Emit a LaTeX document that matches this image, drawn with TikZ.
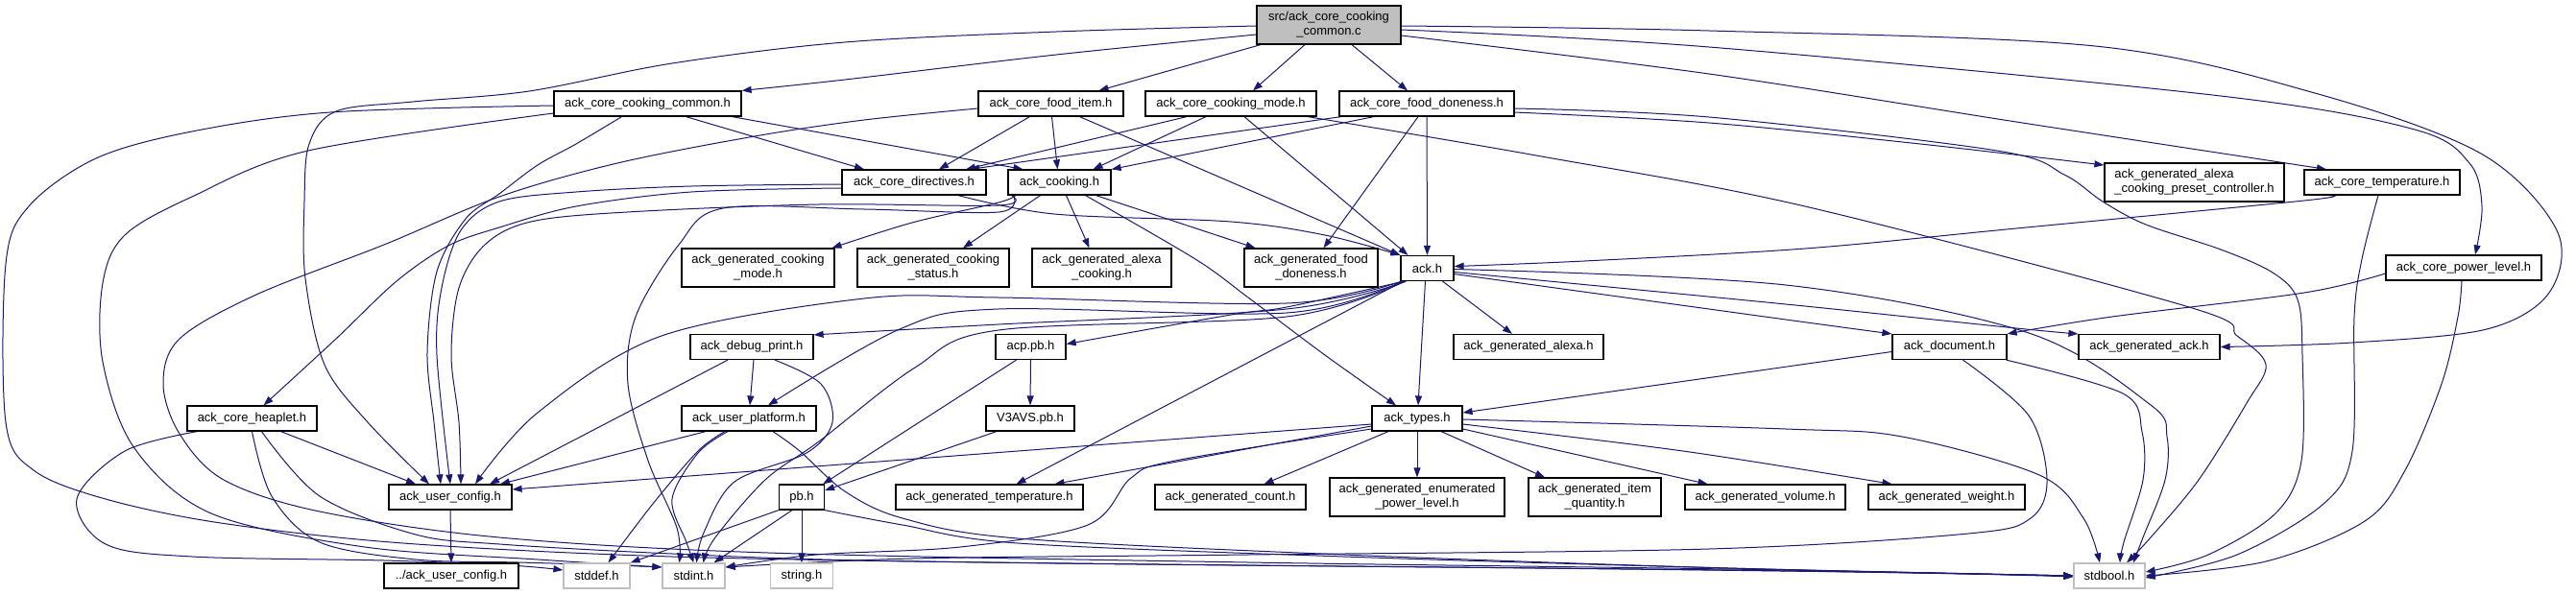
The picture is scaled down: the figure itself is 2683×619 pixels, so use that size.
\documentclass[tikz,border=0pt]{standalone}
\usepackage{fontspec}
\setmainfont{Liberation Sans}
\usetikzlibrary{arrows.meta}
\definecolor{edgeblue}{HTML}{191970}
\definecolor{boxgray}{HTML}{BFBFBF}
\pgfdeclarelayer{bg}
\pgfsetlayers{bg,main}
\begin{document}
\begin{tikzpicture}[x=1pt,y=-1pt,
 box/.style={draw=black,line width=1.2pt,fill=white,inner sep=0pt,minimum height=26pt,font=\fontsize{13}{15}\selectfont,text=black},
 tall/.style={minimum height=40pt,align=center},
 sys/.style={box,draw=boxgray},
 edge/.style={draw=edgeblue,line width=1pt,-{Triangle[length=10pt,width=7pt]}},
 sm/.style={smooth,tension=0.55}]
\useasboundingbox (0,0) rectangle (2683,619);
% rank 0
\node[box,tall,fill=boxgray,minimum width=150pt] (src) at (1384,26) {src/ack\_core\_cooking\\\_common.c};
% rank 1
\node[box,minimum width=195pt] (ccc) at (674.5,108) {ack\_core\_cooking\_common.h};
\node[box,minimum width=151pt] (fi) at (1094.5,108) {ack\_core\_food\_item.h};
\node[box,minimum width=178pt] (cm) at (1282,108) {ack\_core\_cooking\_mode.h};
\node[box,minimum width=182pt] (fd) at (1486,108) {ack\_core\_food\_doneness.h};
% rank 2
\node[box,minimum width=150pt] (dir) at (952,190) {ack\_core\_directives.h};
\node[box,minimum width=107pt] (ck) at (1103.5,190) {ack\_cooking.h};
\node[box,minimum width=187pt,minimum height=40pt,align=left] (gpc) at (2285.5,190) {ack\_generated\_alexa\\\_cooking\_preset\_controller.h};
\node[box,minimum width=162pt] (temp) at (2481,190) {ack\_core\_temperature.h};
% rank 3
\node[box,tall,minimum width=159pt] (gcm) at (789.5,279) {ack\_generated\_cooking\\\_mode.h};
\node[box,tall,minimum width=158pt] (gcs) at (972,279) {ack\_generated\_cooking\\\_status.h};
\node[box,tall,minimum width=145pt] (gac) at (1147.5,279) {ack\_generated\_alexa\\\_cooking.h};
\node[box,tall,minimum width=139pt] (gfd) at (1365.5,279) {ack\_generated\_food\\\_doneness.h};
\node[box,minimum width=55pt] (ack) at (1486.5,279.5) {ack.h};
\node[box,minimum width=162pt] (pl) at (2566,279) {ack\_core\_power\_level.h};
% rank 4
\node[box,minimum width=128pt] (dbg) at (783,361.5) {ack\_debug\_print.h};
\node[box,minimum width=73pt] (acp) at (1073.5,361.5) {acp.pb.h};
\node[box,minimum width=156pt] (galexa) at (1592,361.5) {ack\_generated\_alexa.h};
\node[box,minimum width=119pt] (doc) at (2030.5,361.5) {ack\_document.h};
\node[box,minimum width=147pt] (gack) at (2238.5,361.5) {ack\_generated\_ack.h};
% rank 5
\node[box,minimum width=135pt] (heap) at (262.5,436) {ack\_core\_heaplet.h};
\node[box,minimum width=140pt] (up) at (780,436) {ack\_user\_platform.h};
\node[box,minimum width=92pt] (v3) at (1073,436) {V3AVS.pb.h};
\node[box,minimum width=94pt] (types) at (1476,436) {ack\_types.h};
% rank 6
\node[box,minimum width=128pt] (uc) at (469,518) {ack\_user\_config.h};
\node[box,minimum width=47pt] (pb) at (835,518) {pb.h};
\node[box,minimum width=195pt] (gtemp) at (1030.5,518) {ack\_generated\_temperature.h};
\node[box,minimum width=157pt] (gcount) at (1281.5,518) {ack\_generated\_count.h};
\node[box,tall,minimum width=182pt] (genum) at (1476,518) {ack\_generated\_enumerated\\\_power\_level.h};
\node[box,tall,minimum width=138pt] (gitem) at (1661,518) {ack\_generated\_item\\\_quantity.h};
\node[box,minimum width=167pt] (gvol) at (1838.5,518) {ack\_generated\_volume.h};
\node[box,minimum width=163pt] (gweight) at (2027.5,518) {ack\_generated\_weight.h};
% rank 7
\node[box,minimum width=140pt] (luc) at (470,600) {../ack\_user\_config.h};
\node[sys,minimum width=69pt] (stddef) at (621.5,600) {stddef.h};
\node[sys,minimum width=65pt] (stdint) at (722.5,600) {stdint.h};
\node[sys,minimum width=65pt] (string) at (835,600) {string.h};
\node[sys,minimum width=74pt] (stdbool) at (2197,600) {stdbool.h};

\begin{pgfonlayer}{bg}
% src
\draw[edge] plot[sm] coordinates {([yshift=-10pt]src.west) (1100,57) (880,83) (ccc.north east)};
\draw[edge] plot[sm] coordinates {([yshift=-1pt]src.west) (1100,33) (880,44) (700,66) (551,95) (430,106) (350,116) (322,150) (317,210) (318,290) (338,380) (383,440) ([xshift=-22pt]uc.north)};
\draw[edge] ([xshift=-71pt]src.south) -- ([xshift=50pt]fi.north);
\draw[edge] ([xshift=-25pt]src.south) -- ([xshift=23pt]cm.north);
\draw[edge] ([xshift=24pt]src.south) -- ([xshift=-20pt]fd.north);
\draw[edge] plot[sm] coordinates {([yshift=-11pt]src.east) (1780,77) (2100,127) ([xshift=-58pt]temp.north)};
\draw[edge] plot[sm] coordinates {([yshift=-5pt]src.east) (1780,49) (2313,100) (2515,135) (2572,170) (2585,215) ([xshift=12pt]pl.north)};
\draw[edge] plot[sm] coordinates {([yshift=-1pt]src.east) (1780,32) (2182,48) (2411,97) (2584,160) (2663,240) (2655,305) (2590,343) (2450,357) (gack.east)};
% ccc
\draw[edge] plot[sm] coordinates {([yshift=-2pt]ccc.west) (344,117) (200,137) (100,165) (30,215) (6,275) (6,440) (35,490) (110,520) (230,545) (420,566) (700,580) (1100,587) (1600,592) (2000,597) ([yshift=-1pt]stdbool.west)};
\draw[edge] plot[sm] coordinates {([yshift=-10pt]ccc.west) (321,157) (200,205) (130,245) (107,295) (107,377) (140,467) (220,535) (380,570) (560,583) ([yshift=9pt]stdint.west)};
\draw[edge] plot[sm] coordinates {([xshift=-27pt]ccc.south) (600,150) (560,172) (520,202) (485,228) (455,283) (445,367) (452,440) ([xshift=-10pt]uc.north)};
\draw[edge] ([xshift=40pt]ccc.south) -- ([xshift=-52pt]dir.north);
\draw[edge] ([xshift=88pt]ccc.south) -- ([xshift=-38pt]ck.north);
% fi
\draw[edge] plot[sm] coordinates {([yshift=-5pt]fi.west) (900,125) (786,142) (643,170) (520,205) (400,255) (267,307) (187,353) (170,400) (187,452) (233,500) (333,533) (520,560) (800,576) (1300,586) (1800,593) (stdbool.west)};
\draw[edge] ([xshift=-22pt]fi.south) -- ([xshift=26pt]dir.north);
\draw[edge] ([xshift=1pt]fi.south) -- ([xshift=-2pt]ck.north);
\draw[edge] ([xshift=30pt]fi.south) -- (ack.north west);
% cm
\draw[edge] ([xshift=-46pt]cm.south) -- ([xshift=54pt]dir.north);
\draw[edge] ([xshift=-26pt]cm.south) -- ([xshift=35pt]ck.north);
\draw[edge] ([xshift=14pt]cm.south) -- ([xshift=-20pt]ack.north);
\draw[edge] plot[sm] coordinates {([xshift=80pt]cm.south) (1600,162) (1880,215) (2280,320) (2330,350) (2360,380) (2340,420) (2290,500) (2240,560) ([xshift=18pt]stdbool.north)};
% fd
\draw[edge] ([xshift=-89pt]fd.south) -- ([xshift=58pt]dir.north);
\draw[edge] ([xshift=-55pt]fd.south) -- (ck.north east);
\draw[edge] ([xshift=-9pt]fd.south) -- ([xshift=13pt]gfd.north);
\draw[edge] (fd.south) -- (ack.north);
\draw[edge] plot[sm] coordinates {([yshift=-9pt]fd.east) (1780,128) (2000,150) ([yshift=18pt]gpc.west)};
\draw[edge] plot[sm] coordinates {([yshift=-5pt]fd.east) (1780,122) (2080,157) (2150,182) (2190,210) (2235,234) (2313,260) (2367,284) (2393,312) (2398,370) (2397,480) (2370,535) (2300,578) ([yshift=4pt]stdbool.east)};
% temp
\draw[edge] plot[sm] coordinates {([xshift=-55pt]temp.south) (2400,209) (2100,238) (1880,259) (1650,272) ([yshift=2pt]ack.east)};
\draw[edge] plot[sm] coordinates {([xshift=-4pt]temp.south) (2460,270) (2452,330) (2450,470) (2420,525) (2330,578) ([yshift=-2pt]stdbool.east)};
% pl
\draw[edge] plot[sm] coordinates {([yshift=-6pt]pl.west) (2400,305) (2200,330) (doc.north east)};
\draw[edge] plot[sm] coordinates {([xshift=-2pt]pl.south) (2560,330) (2543,400) (2505,490) (2463,543) (2360,585) (stdbool.east)};
% dir
\draw[edge] plot[sm] coordinates {([yshift=-6pt]dir.west) (720,200) (600,215) (520,237) (467,256) (413,293) (350,353) ([xshift=12pt]heap.north)};
\draw[edge] plot[sm] coordinates {([yshift=-2pt]dir.west) (720,194) (600,200) (520,210) (480,240) (460,300) (455,370) (uc.north)};
\draw[edge] plot[sm] coordinates {([xshift=46pt]dir.south) (1098,223) (1282,231) (1380,245) (ack.north west)};
% ck
\draw[edge] plot[sm] coordinates {([xshift=-46pt]ck.south) (1040,211) (950,232) ([xshift=77pt]gcm.north)};
\draw[edge] ([xshift=-20pt]ck.south) -- ([xshift=31pt]gcs.north);
\draw[edge] ([xshift=7pt]ck.south) -- ([xshift=-13pt]gac.north);
\draw[edge] ([xshift=38pt]ck.south) -- ([xshift=-58pt]gfd.north);
\draw[edge] plot[sm] coordinates {([xshift=27pt]ck.south) (1245,270) (1300,310) (1380,370) ([xshift=-22pt]types.north)};
\draw[edge] plot[sm] coordinates {([xshift=-50pt]ck.south) (1040,214) (853,213) (653,221) (553,231) (505,255) (478,300) (470,370) (478,440) ([xshift=11pt]uc.north)};
\draw[edge] plot[sm] coordinates {([xshift=-48pt]ck.south) (1040,221) (900,218) (753,217) (707,255) (662,330) (654,400) (675,480) (705,550) ([xshift=-15pt]stdint.north)};
% ack
\draw[edge] plot[sm] coordinates {([xshift=-22pt]ack.south) (1340,322) (1040,338) ([yshift=-1pt]dbg.north east)};
\draw[edge] plot[sm] coordinates {([xshift=-24pt]ack.south) (1340,320) (1282,328) ([yshift=3pt]acp.east)};
\draw[edge] plot[sm] coordinates {([xshift=-26pt]ack.south) (1340,326) (1040,322) (937,343) ([xshift=20pt]up.north)};
\draw[edge] plot[sm] coordinates {([xshift=-27pt]ack.south) (1340,316) (1040,310) (900,311) (689,350) (560,430) ([xshift=26pt]uc.north)};
\draw[edge] plot[sm] coordinates {([xshift=-23pt]ack.south) (1340,330) (1040,344) (953,383) (853,460) (797,500) (745,560) ([xshift=10pt]stdint.north)};
\draw[edge] ([xshift=-25pt]ack.south) -- ([xshift=28pt]gtemp.north);
\draw[edge] ([xshift=-2pt]ack.south) -- ([xshift=1pt]types.north);
\draw[edge] ([xshift=16pt]ack.south) -- ([xshift=-17pt]galexa.north);
\draw[edge] plot[sm] coordinates {([yshift=-1pt]ack.east) (1860,297) (2113,347) (2240,422) (2257,455) (2255,500) (2232,560) ([xshift=25pt]stdbool.north)};
\draw[edge] plot[sm] coordinates {([yshift=-4pt]ack.east) (1860,317) (2100,342) (gack.north west)};
\draw[edge] plot[sm] coordinates {([yshift=-6pt]ack.east) (1860,333) (doc.north west)};
% dbg
\draw[edge] ([xshift=2pt]dbg.south) -- ([xshift=1pt]up.north);
\draw[edge] ([xshift=-25pt]dbg.south) -- ([xshift=41pt]uc.north);
\draw[edge] plot[sm] coordinates {([xshift=24pt]dbg.south) (855,400) (867,440) (840,472) (765,502) (733,555) ([xshift=3pt]stdint.north)};
% up
\draw[edge] ([xshift=-45pt]up.south) -- ([xshift=52pt]uc.north);
\draw[edge] plot[sm] coordinates {([xshift=-25pt]up.south) (727,470) (680,525) ([xshift=12pt]stddef.north)};
\draw[edge] plot[sm] coordinates {([xshift=-22pt]up.south) (727,472) (700,520) (715,565) (stdint.north)};
\draw[edge] plot[sm] coordinates {([xshift=25pt]up.south) (833,470) (880,512) (940,540) (1060,561) (1400,578) (1800,592) (stdbool.west)};
% acp, v3
\draw[edge] (acp.south) -- (v3.north);
\draw[edge] ([xshift=-15pt]acp.south) -- ([xshift=-2pt]pb.north east);
\draw[edge] ([xshift=-35pt]v3.south) -- ([yshift=7pt]pb.east);
% pb
\draw[edge] (pb.south west) -- (stddef.north east);
\draw[edge] ([xshift=-10pt]pb.south) -- ([xshift=21pt]stdint.north);
\draw[edge] (pb.south) -- (string.north);
\draw[edge] plot[sm] coordinates {(pb.south east) (940,547) (1060,566) (1400,580) (1800,592) (stdbool.west)};
% heap
\draw[edge] ([xshift=30pt]heap.south) -- ([xshift=-36pt]uc.north);
\draw[edge] plot[sm] coordinates {([xshift=-57pt]heap.south) (130,470) (80,520) (110,567) (200,580) (400,584) (530,589) ([yshift=6pt]stddef.west)};
\draw[edge] plot[sm] coordinates {(heap.south) (283,517) (333,565) (433,583) (540,586) (640,589) ([yshift=9pt]stdint.west)};
\draw[edge] plot[sm] coordinates {([xshift=10pt]heap.south) (333,517) (433,557) (520,567) (700,577) (900,584) (1300,589) (1800,594) (stdbool.west)};
% types
\draw[edge] ([yshift=-6pt]types.west) -- ([yshift=8pt]uc.east);
\draw[edge] ([yshift=-8pt]types.west) -- ([xshift=68pt]gtemp.north);
\draw[edge] plot[sm] coordinates {([yshift=-11pt]types.west) (1224,480) (1178,498) (1133,547) (1000,570) (850,578) ([yshift=9pt]stdint.east)};
\draw[edge] ([xshift=-30pt]types.south) -- ([xshift=35pt]gcount.north);
\draw[edge] (types.south) -- (genum.north);
\draw[edge] ([xshift=25pt]types.south) -- ([xshift=-52pt]gitem.north);
\draw[edge] ([yshift=-11pt]types.east) -- ([xshift=-60pt]gvol.north);
\draw[edge] plot[sm] coordinates {([yshift=-6pt]types.east) (1753,470) ([xshift=-57pt]gweight.north)};
\draw[edge] plot[sm] coordinates {([yshift=-1pt]types.east) (1860,447) (1981,455) (2124,495) (2170,540) ([xshift=-10pt]stdbool.north)};
% doc
\draw[edge] ([yshift=-5pt]doc.west) -- ([yshift=6pt]types.east);
\draw[edge] plot[sm] coordinates {([xshift=14pt]doc.south) (2113,433) (2132,500) (2115,540) (2050,556) (1780,572) (1300,578) (950,582) ([yshift=9pt]stdint.east)};
\draw[edge] plot[sm] coordinates {([xshift=59pt]doc.south) (2211,410) (2231,450) (2232,500) (2212,565) ([xshift=11pt]stdbool.north)};
% uc
\draw[edge] (uc.south) -- (luc.north);
\end{pgfonlayer}
\end{tikzpicture}
\end{document}
